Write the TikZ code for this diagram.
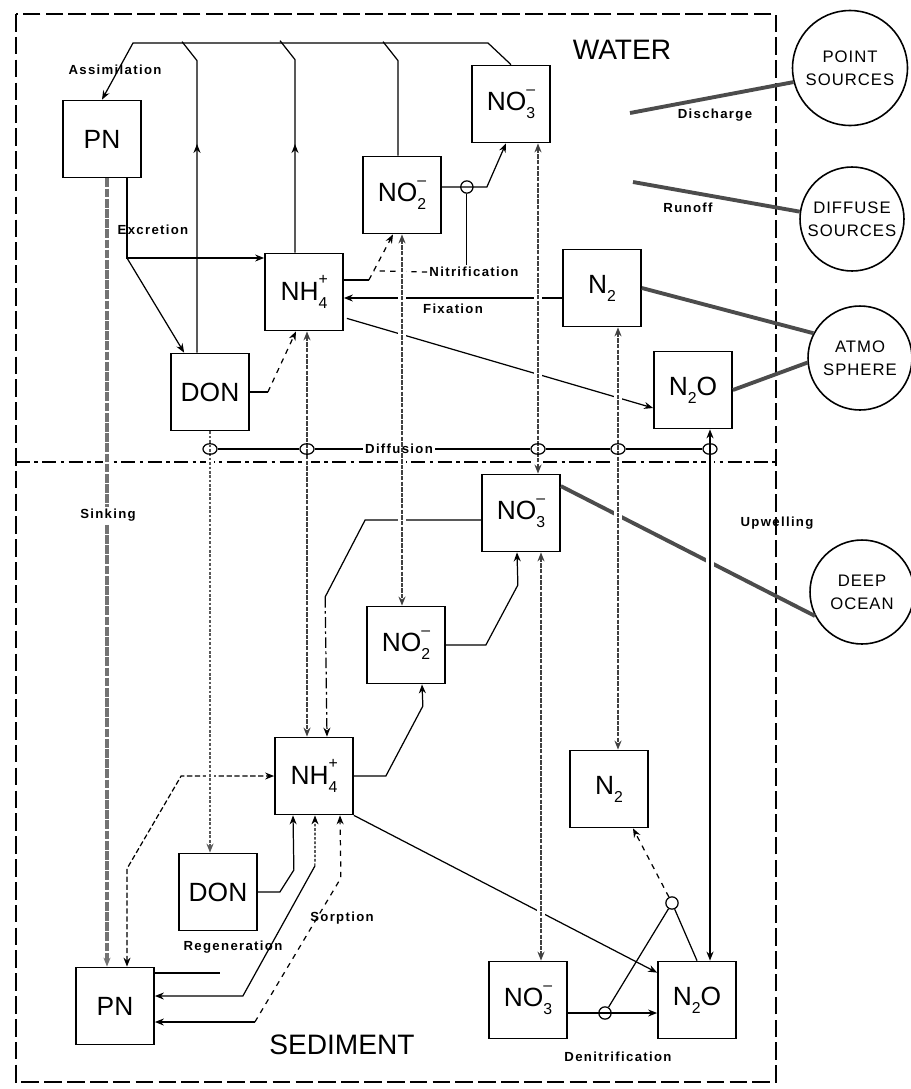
\documentclass[tikz,border=0pt]{standalone}
\usepackage{fontspec}
\setmainfont{Liberation Sans}
\newfontfamily\lblfont{Liberation Sans}[LetterSpace=10]
\newfontfamily\srcfont{Liberation Sans}[LetterSpace=6]
\usetikzlibrary{arrows.meta, calc, shapes.geometric, decorations.markings}

\newcommand{\ionlbl}[3]{#1\makebox[0pt][l]{\raisebox{0.6em}{\fontsize{9}{9}\selectfont #3}}\raisebox{-0.3em}{\fontsize{9}{9}\selectfont #2}}

\tikzset{
  box/.style={draw, line width=1pt, minimum width=1.56cm, minimum height=1.54cm, inner sep=0pt, font=\fontsize{15}{17}\selectfont},
  src/.style={circle, draw, line width=0.9pt, minimum size=2.08cm, inner sep=0pt, align=center, font=\srcfont\fontsize{9.5}{13}\selectfont},
  lbl/.style={font=\lblfont\bfseries\fontsize{7.5}{9}\selectfont, inner sep=1pt},
  big/.style={font=\fontsize{16}{18}\selectfont},
  flow/.style={-{Stealth[length=1.8mm, width=1.4mm]}},
  both/.style={{Stealth[length=1.8mm, width=1.4mm]}-{Stealth[length=1.8mm, width=1.4mm]}},
  tipat/.style={postaction={decorate}, decoration={markings, mark=at position #1 with {\arrow{Stealth[length=1.8mm, width=1.4mm]}}}},
  exch/.style={line width=1.6pt, black!75, dash pattern=on 2.5pt off 0.7pt, preaction={draw=white, line width=5pt, solid, -, shorten <=4pt, shorten >=4pt}},
  sinkline/.style={line width=2pt, black!55, dash pattern=on 5pt off 0.8pt, preaction={draw=white, line width=5pt, solid, -, shorten <=4pt, shorten >=4pt}},
  srcline/.style={line width=2.2pt, black!70},
  valve/.style={circle, draw, line width=0.7pt, minimum size=7pt, inner sep=0pt},
  oval/.style={ellipse, draw, line width=0.7pt, minimum width=8pt, minimum height=6pt, inner sep=0pt}
}

\begin{document}
\begin{tikzpicture}[x=0.02cm, y=-0.02cm, line width=0.7pt]
\useasboundingbox (0,0) rectangle (910,1089);

% frame and divider
\draw[line width=1pt, dash pattern=on 10pt off 3pt] (16,14) rectangle (776,1082);
\draw[line width=1pt, dash pattern=on 8pt off 2.5pt on 2pt off 2.5pt] (16,462) -- (776,462);
\node[big] (water) at (622,50) {WATER};
\node[big] (sediment) at (342,1045) {SEDIMENT};

% water column
\node[box] (pnw)  at (102,139) {PN};
\node[box] (no3w) at (511,104) {\ionlbl{NO}{3}{--}};
\node[box] (no2w) at (402,195) {\ionlbl{NO}{2}{--}};
\node[box] (nh4w) at (304,292) {\ionlbl{NH}{4}{+}};
\node[box] (n2w)  at (602,288) {\ionlbl{N}{2}{}};
\node[box] (donw) at (210,392) {DON};
\node[box] (n2ow) at (693,390) {\ionlbl{N}{2}{}O};

% sediment
\node[box] (no3s) at (521,513) {\ionlbl{NO}{3}{--}};
\node[box] (no2s) at (406,645) {\ionlbl{NO}{2}{--}};
\node[box] (nh4s) at (314,776) {\ionlbl{NH}{4}{+}};
\node[box] (n2s)  at (609,789) {\ionlbl{N}{2}{}};
\node[box] (dons) at (218,892) {DON};
\node[box] (pns)  at (115,1006) {PN};
\node[box] (no3b) at (528,1000) {\ionlbl{NO}{3}{--}};
\node[box] (n2ob) at (697,1000) {\ionlbl{N}{2}{}O};

% outside
\node[src, minimum size=2.3cm] (point) at (850,68) {POINT\\SOURCES};
\node[src] (diffuse) at (852,219) {DIFFUSE\\SOURCES};
\node[src] (atmo) at (860,358) {ATMO\\SPHERE};
\node[src] (deep) at (862,592) {DEEP\\OCEAN};

% assimilation
\coordinate (atl) at (133,43);
\coordinate (atr) at (488,43);
\draw[flow] (no3w.north) -- (atr) -- (atl) -- (pnw.north);
\draw[tipat=0.66] ($(donw.north)+(-13,0)$) -- ++(0,-292) -- ++(-15,-19);
\draw[tipat=0.5] ($(nh4w.north)+(-9,0)$) -- ++(0,-193) -- ++(-15,-19);
\draw ($(no2w.north)+(-4,0)$) -- ++(0,-95) -- ++(-15,-19);
\node[lbl] (assim) at (115,70) {Assimilation};

% excretion
\coordinate (exc) at (127,258);
\draw[flow] (pnw.south -| exc) -- (exc) -- (nh4w.north west |- exc);
\draw[flow] (exc) -- ($(donw.north west)+(14,0)$);
\node[lbl] (excr) at (153,230) {Excretion};

% DON -> NH4, nitrification
\draw (donw.east) -- ++(18,0) coordinate (dn);
\draw[flow, dashed] (dn) -- ($(nh4w.south)+(-8,0)$);
\draw ($(nh4w.east)+(0,-12)$) -- ++(25,0) coordinate (n1);
\coordinate (n2e) at ($(no2w.south)+(-9,0)$);
\draw[flow, dashed] (n1) -- (n2e);
\node[lbl] (nitr) at (474,272) {Nitrification};
\draw[dashed] (nitr.west) -- ($(n1)!0.2!(n2e)$);
\draw[flow] ($(no2w.east)+(0,-8)$) -- ++(45,0) -- ($(no3w.south)+(-5,0)$);
\node[valve] (vlv) at ($(no2w.east)+(25,-8)$) {};
\draw (vlv.south) -- (vlv.south |- nitr.north);

% fixation
\coordinate (fix) at ($(nh4w.east)+(0,6)$);
\draw[flow] (n2w.west |- fix) -- (fix) node[lbl, midway, below=2pt] (fixl) {Fixation};
\draw[flow] ($(nh4w.south east)+(3,-13)$) -- ($(n2ow.west)+(0,18)$);

% exchange with the outside
\coordinate (dis) at (630,113);
\coordinate (run) at (633,182);
\draw[srcline] (point.194) -- (dis);
\draw[srcline] (diffuse.172) -- (run);
\draw[srcline] (n2w.east) -- (atmo.152);
\draw[srcline] (n2ow.east) -- (atmo.185);
\draw[srcline] (deep.207) -- (no3s.34);
\node[lbl] (disl) at (715,115) {Discharge};
\node[lbl] (runl) at (688,208) {Runoff};
\node[lbl] (upw) at (777,523) {Upwelling};

% sediment processes
\draw ($(no3s.west)+(0,7)$) -- ++(-116,0) -- ++(-40,77) coordinate (s1);
\draw[flow, dash pattern=on 6pt off 2pt on 1.5pt off 2pt] (s1) -- ($(nh4s.north)+(13,0)$);
\draw[flow] (no2s.east) -- ++(40,0) -- ++(32,-60) -- ($(no3s.south)+(-4,0)$);
\draw[flow] (nh4s.east) -- ++(32,0) -- ++(37,-70) -- ($(no2s.south)+(16,0)$);
\draw[both, dash pattern=on 3pt off 1.5pt] ($(pns.north)+(12,0)$) -- ++(0,-98) -- ($(nh4s.west)+(-93,0)$) -- (nh4s.west);
\draw[flow] (dons.east) -- ++(22,0) -- ++(14,-22) -- ($(nh4s.south)+(-21,0)$);
\draw[flow] (nh4s.south east) -- ($(n2ob.north west)+(0,12)$);

% sorption
\draw[{Stealth[length=1.8mm, width=1.4mm]}-] ($(pns.east)+(0,-10)$) -- ++(88,0) -- ++(72,-130) coordinate (s2);
\draw[flow, dash pattern=on 1.5pt off 1pt] (s2) -- ($(nh4s.south)+(1,0)$);
\draw[{Stealth[length=1.8mm, width=1.4mm]}-] ($(pns.east)+(0,16)$) -- ++(100,0) coordinate (s3);
\draw[flow, dashed] (s3) -- ++(86,-144) -- ($(nh4s.south)+(26,0)$);
\draw ($(pns.east)+(0,-33)$) -- ++(65,0) coordinate (stub);
\node[lbl] (sorp) at (342,918) {Sorption};
\node[lbl] (regen) at (233,947) {Regeneration};

% denitrification
\draw[flow] ($(no3b.east)+(0,13)$) -- ($(n2ob.west)+(0,13)$);
\node[valve] (vd1) at (605,1013) {};
\node[valve] (vd2) at (672,903) {};
\draw (n2ob.north) -- (vd2);
\draw[flow, dashed] (vd2) -- ($(n2s.south)+(24,0)$);
\draw (vd1) -- (vd2);
\node[lbl] (denit) at (618,1057) {Denitrification};

% water - sediment exchange
\draw[sinkline, flow] ($(pnw.south)+(5,0)$) coordinate (snk) -- (snk |- pns.north);
\node[lbl, fill=white] (sink) at (108,515) {Sinking};
\draw[flow, line width=1pt, black!65, dash pattern=on 1.5pt off 1pt, preaction={draw=white, line width=5pt, solid, -, shorten <=4pt, shorten >=4pt}] (donw.south) -- (donw.south |- dons.north);
\coordinate (v1) at ($(nh4w.south)+(3,0)$);
\coordinate (v2) at ($(n2w.south)+(16,0)$);
\coordinate (v3) at ($(no3w.south)+(27,0)$);
\coordinate (v4) at ($(n2ow.south)+(17,0)$);
\coordinate (v5) at ($(no3s.south)+(20,0)$);
\draw[exch, both] (v1) -- (v1 |- nh4s.north);
\draw[exch, both] (no2w.south) -- (no2w.south |- no2s.north);
\draw[exch, both] (v3) -- (v3 |- no3s.north);
\draw[exch, both] (v2) -- (v2 |- n2s.north);
\draw[exch, black, solid, both] (v4) -- (v4 |- n2ob.north);
\draw[exch, both] (v5) -- (v5 |- no3b.north);

% diffusion
\foreach \nm/\xx in {dfdon/210, dfnh/307, dfno3/538, dfn2/618, dfn2o/710}
  \node[oval] (\nm) at (\xx,449) {};
\node[lbl] (diffl) at (399,449) {Diffusion};
\foreach \a/\b in {dfdon/dfnh, dfnh/diffl, diffl/dfno3, dfno3/dfn2, dfn2/dfn2o}
  \draw (\a) -- (\b);
\end{tikzpicture}
\end{document}
